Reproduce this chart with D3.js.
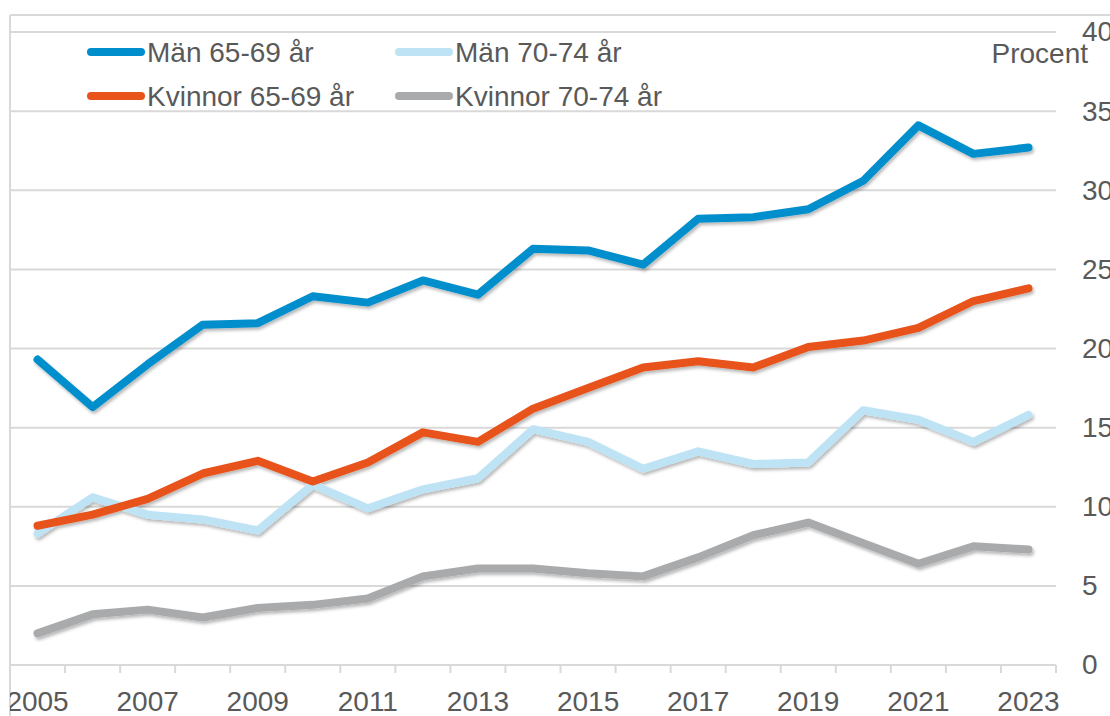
<!DOCTYPE html>
<html lang="sv">
<head>
<meta charset="UTF-8">
<title>Andel sysselsatta 65-74 år</title>
<style>
  html, body { margin: 0; padding: 0; background: #fff; }
  #chart { display: block; }
  .lbl { font-family: "Liberation Sans", Arial, sans-serif; font-size: 28px; fill: #595959; }
</style>
</head>
<body>
<svg id="chart" width="1110" height="716"></svg>
<script src="https://cdnjs.cloudflare.com/ajax/libs/d3/7.8.5/d3.min.js"></script>
<script>
// ---- data ----
const years = d3.range(2005, 2024);
const manYoung   = [19.3, 16.3, 19.0, 21.5, 21.6, 23.3, 22.9, 24.3, 23.4, 26.3, 26.2, 25.3, 28.2, 28.3, 28.8, 30.6, 34.1, 32.3, 32.7];
const kvinnYoung = [8.8, 9.5, 10.5, 12.1, 12.9, 11.6, 12.8, 14.7, 14.1, 16.2, 17.5, 18.8, 19.2, 18.8, 20.1, 20.5, 21.3, 23.0, 23.8];
const manOld     = [8.3, 10.6, 9.5, 9.2, 8.5, 11.4, 9.9, 11.1, 11.8, 14.9, 14.1, 12.4, 13.5, 12.7, 12.8, 16.1, 15.5, 14.1, 15.8];
const kvinnOld   = [2.0, 3.2, 3.5, 3.0, 3.6, 3.8, 4.2, 5.6, 6.1, 6.1, 5.8, 5.6, 6.8, 8.2, 9.0, 7.7, 6.4, 7.5, 7.3];
const yTicks = [0, 5, 10, 15, 20, 25, 30, 35, 40];
const seriesNames = ["Män 65-69 år", "Män 70-74 år", "Kvinnor 65-69 år", "Kvinnor 70-74 år"];
const seriesColors = ["#008fcc", "#bde3f5", "#e8531a", "#a9aaac"];

const series = [
  { name: seriesNames[0], color: seriesColors[0], values: manYoung },
  { name: seriesNames[1], color: seriesColors[1], values: manOld },
  { name: seriesNames[2], color: seriesColors[2], values: kvinnYoung },
  { name: seriesNames[3], color: seriesColors[3], values: kvinnOld }
];

const svg = d3.select("#chart");
const plotL = 10, plotR = 1056, plotT = 32, plotB = 665;
const grid = "#d9d9d9";

const x = d3.scaleBand().domain(years).range([plotL, plotR]);
const y = d3.scaleLinear().domain([0, 40]).range([plotB, plotT]);

// shadow filter for the lines
const defs = svg.append("defs");
const f = defs.append("filter").attr("id", "shadow")
  .attr("x", "-5%").attr("y", "-20%").attr("width", "110%").attr("height", "140%");
f.append("feDropShadow").attr("dx", 1.5).attr("dy", 2.5).attr("stdDeviation", 1.6)
  .attr("flood-color", "#000").attr("flood-opacity", 0.28);
defs.append("clipPath").attr("id", "leftcut")
  .append("rect").attr("x", plotL).attr("y", -700).attr("width", 1110).attr("height", 1400);

// outer frame (top and left)
svg.append("line").attr("x1", plotL).attr("x2", 1110).attr("y1", 15).attr("y2", 15)
  .attr("stroke", grid).attr("stroke-width", 2);
svg.append("line").attr("x1", plotL).attr("x2", plotL).attr("y1", 15).attr("y2", 716)
  .attr("stroke", grid).attr("stroke-width", 2);

// gridlines
svg.append("g").selectAll("line")
  .data(yTicks)
  .join("line")
    .attr("x1", plotL).attr("x2", plotR)
    .attr("y1", d => y(d)).attr("y2", d => y(d))
    .attr("stroke", grid).attr("stroke-width", 2);

// x tick marks at category boundaries
const bounds = years.map(d => x(d)).concat([x.range()[1]]);
svg.append("g").selectAll("line")
  .data(bounds.slice(1))
  .join("line")
    .attr("x1", d => d).attr("x2", d => d)
    .attr("y1", plotB).attr("y2", plotB + 8)
    .attr("stroke", grid).attr("stroke-width", 2);

// x labels, every other year
const xAxis = svg.append("g")
  .attr("transform", `translate(0,${plotB})`)
  .attr("clip-path", "url(#leftcut)")
  .call(d3.axisBottom(x).tickSize(0).tickPadding(26)
    .tickValues(years.filter(d => d % 2 === 1)));
xAxis.select(".domain").remove();
xAxis.selectAll("text").attr("class", "lbl").attr("fill", null);

// y labels on the right
const yAxis = svg.append("g")
  .attr("transform", `translate(${plotR},0)`)
  .call(d3.axisRight(y).tickValues(yTicks).tickSize(0).tickPadding(26));
yAxis.select(".domain").remove();
yAxis.selectAll("text").attr("class", "lbl").attr("fill", null).attr("dy", "0.32em");

svg.append("text").attr("class", "lbl")
  .attr("x", 1088).attr("y", 63).attr("text-anchor", "end")
  .text("Procent");

// lines
const line = d3.line()
  .x((d, i) => x(years[i]) + x.bandwidth() / 2)
  .y(d => y(d));

const drawOrder = [3, 1, 2, 0];
svg.append("g").attr("filter", "url(#shadow)")
  .selectAll("path")
  .data(drawOrder.map(i => series[i]))
  .join("path")
    .attr("d", d => line(d.values))
    .attr("fill", "none")
    .attr("stroke", d => d.color)
    .attr("stroke-width", 8)
    .attr("stroke-linejoin", "round")
    .attr("stroke-linecap", "round");

// legend
const legPos = [[87, 52], [395, 52], [87, 96], [395, 96]];
const leg = svg.append("g").selectAll("g")
  .data(series)
  .join("g")
    .attr("transform", (d, i) => `translate(${legPos[i][0]},${legPos[i][1]})`);
leg.append("line")
  .attr("x1", 4).attr("x2", 54)
  .attr("stroke", d => d.color).attr("stroke-width", 8).attr("stroke-linecap", "round");
leg.append("text").attr("class", "lbl")
  .attr("x", 60).attr("dy", "0.35em")
  .text(d => d.name);
</script>
</body>
</html>
